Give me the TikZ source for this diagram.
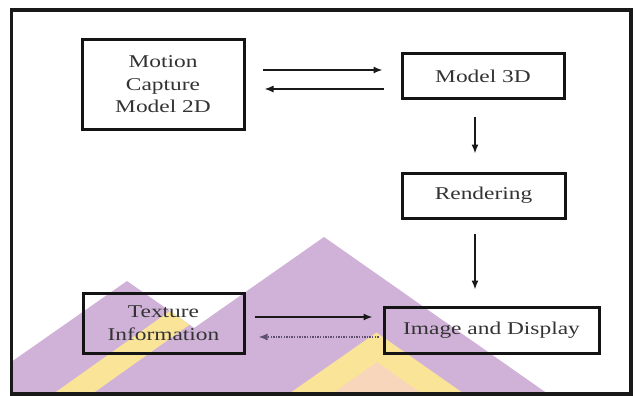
\documentclass[tikz,border=0pt]{standalone}
\usepackage{fontspec}
\setmainfont{Liberation Serif}[FakeStretch=1.3]
\usetikzlibrary{arrows.meta}
\definecolor{lilac}{RGB}{208,178,216}
\definecolor{wmyellow}{RGB}{250,228,152}
\definecolor{wmpeach}{RGB}{247,214,188}
\definecolor{dotcol}{RGB}{95,80,110}
\begin{document}
\begin{tikzpicture}[x=1pt,y=-1pt,
  box/.style={draw=black!92, line width=3pt, inner sep=0pt, align=center,
    text=black!80, font=\fontsize{18pt}{22.5pt}\selectfont},
  arr/.style={draw=black!90, line width=1.4pt, -{Latex[length=9pt,width=7pt]}},
  dotarr/.style={arr, draw=dotcol, dash pattern=on 1.4pt off 1.2pt}]
\useasboundingbox (0,0) rectangle (635,396);
\fill[white] (0,0) rectangle (635,396);
% watermark
\begin{scope}
\clip (11.5,10) rectangle (631,394);
\fill[lilac] (127,281) -- (288.6,394) -- (-34.6,394) -- cycle;
\fill[lilac] (324,237) -- (548,394) -- (100,394) -- cycle;
\fill[wmyellow] (53,394) -- (92,394) -- (189.5,324.7) -- (169.9,311) -- cycle;
\fill[wmyellow] (376.5,332.5) -- (464.4,394) -- (288.6,394) -- cycle;
\fill[wmpeach] (377,362) -- (422,394) -- (332,394) -- cycle;
\end{scope}
% frame
\draw[line width=3.5pt, black!90] (11.5,10) rectangle (631,394);
% nodes
\node[box, minimum width=162pt, minimum height=89pt] (mc) at (163,84.5) {Motion\\Capture\\Model 2D};
\node[box, minimum width=162pt, minimum height=45pt] (m3) at (483,76.5) {Model 3D};
\node[box, minimum width=163pt, minimum height=45pt] (rd) at (483.5,195.5) {Rendering};
\node[box, minimum width=161pt, minimum height=60pt] (tx) at (163.5,323) {Texture\\Information};
\node[box, minimum width=215pt, minimum height=46pt] (im) at (491.5,330) {Image and Display};
% helper levels
\coordinate (y1) at (0,70);
\coordinate (y2) at (0,89);
\coordinate (y5) at (0,317);
\coordinate (y6) at (0,337);
\coordinate (xv) at (475,0);
% connectors
\draw[arr, shorten <=17pt, shorten >=18pt] (mc.east |- y1) -- (m3.west |- y1);
\draw[arr, shorten <=17pt, shorten >=19pt] (m3.west |- y2) -- (mc.east |- y2);
\draw[arr, shorten <=16pt, shorten >=18pt] (m3.south -| xv) -- (rd.north -| xv);
\draw[arr, shorten <=14pt, shorten >=16pt] (rd.south -| xv) -- (im.north -| xv);
\draw[arr, shorten <=9pt, shorten >=10pt] (tx.east |- y5) -- (im.west |- y5);
\draw[dotarr, shorten <=4pt, shorten >=13pt] (im.west |- y6) -- (tx.east |- y6);
\end{tikzpicture}
\end{document}
